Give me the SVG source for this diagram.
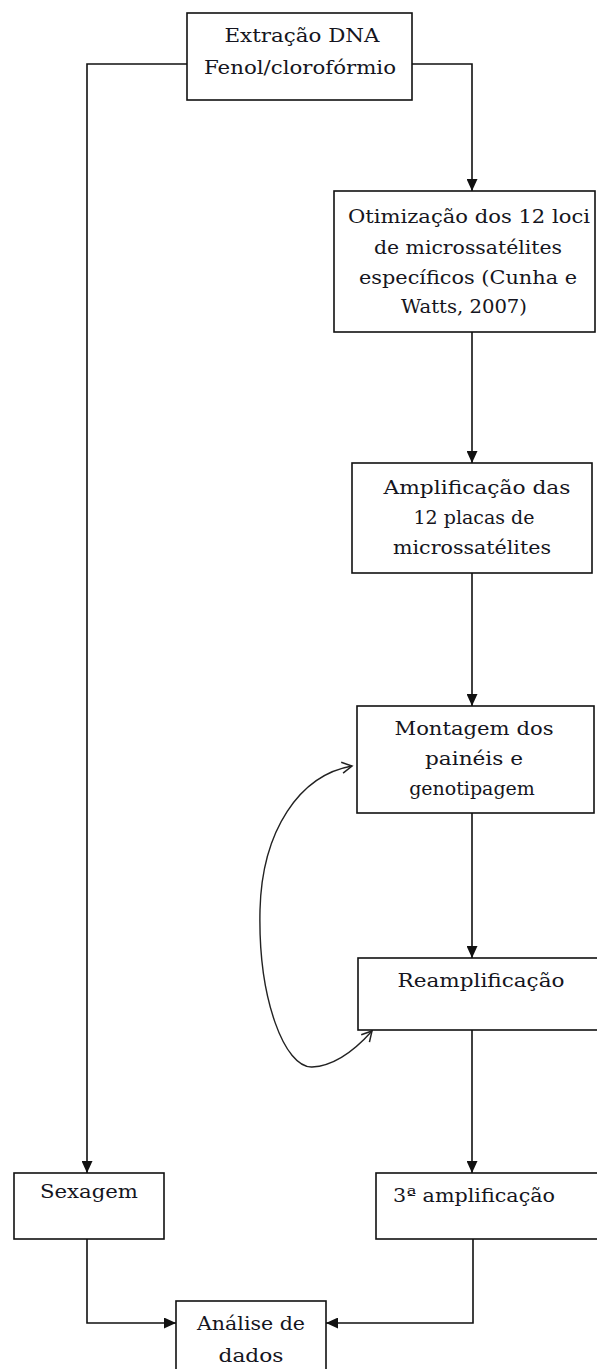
<svg xmlns="http://www.w3.org/2000/svg" width="597" height="1369" viewBox="0 0 597 1369">
<style>
.box{fill:#fff;stroke:#111;stroke-width:1.6}
.t{font-family:"DejaVu Serif","Liberation Serif",serif;font-size:19px;fill:#151520;text-anchor:middle}
.c{fill:none;stroke:#111;stroke-width:1.6}
.cv{fill:none;stroke:#222;stroke-width:1.4}
</style>
<defs>
<marker id="ah" markerUnits="userSpaceOnUse" markerWidth="12" markerHeight="11" refX="12" refY="5.5" orient="auto">
<path d="M0,0 L12,5.5 L0,11 z" fill="#111"/>
</marker>
<marker id="oa" markerUnits="userSpaceOnUse" markerWidth="14" markerHeight="14" refX="11" refY="7" orient="auto-start-reverse">
<path d="M1,1.5 L11,7 L1,12.5" fill="none" stroke="#222" stroke-width="1.5"/>
</marker>
</defs>
<g id="connectors">
<polyline class="c" points="187,64 87,64 87,1173" marker-end="url(#ah)"/>
<polyline class="c" points="412,64 472,64 472,191" marker-end="url(#ah)"/>
<line class="c" x1="472" y1="332" x2="472" y2="463" marker-end="url(#ah)"/>
<line class="c" x1="472" y1="573" x2="472" y2="706" marker-end="url(#ah)"/>
<line class="c" x1="472" y1="813" x2="472" y2="958" marker-end="url(#ah)"/>
<line class="c" x1="472" y1="1030" x2="472" y2="1173" marker-end="url(#ah)"/>
<polyline class="c" points="87,1239 87,1323 176,1323" marker-end="url(#ah)"/>
<polyline class="c" points="473,1239 473,1323 326,1323" marker-end="url(#ah)"/>
<path class="cv" d="M352,766 C300,775 262,830 260,910 C258,1000 285,1068 312,1067 C335,1066 355,1050 372,1031" marker-start="url(#oa)" marker-end="url(#oa)"/>
</g>
<g id="n1">
<rect class="box" x="187" y="13" width="225" height="87"/>
<text class="t" x="302" y="42" textLength="155" lengthAdjust="spacingAndGlyphs">Extração DNA</text>
<text class="t" x="300" y="74" textLength="192" lengthAdjust="spacingAndGlyphs">Fenol/clorofórmio</text>
</g>
<g id="n2">
<rect class="box" x="334" y="191" width="261" height="141"/>
<text class="t" x="469" y="223" textLength="242" lengthAdjust="spacingAndGlyphs">Otimização dos 12 loci</text>
<text class="t" x="468" y="254" textLength="188" lengthAdjust="spacingAndGlyphs">de microssatélites</text>
<text class="t" x="468" y="284" textLength="218" lengthAdjust="spacingAndGlyphs">específicos (Cunha e</text>
<text class="t" x="464" y="313" textLength="126" lengthAdjust="spacingAndGlyphs">Watts, 2007)</text>
</g>
<g id="n3">
<rect class="box" x="352" y="463" width="240" height="110"/>
<text class="t" x="477" y="494" textLength="187" lengthAdjust="spacingAndGlyphs">Amplificação das</text>
<text class="t" x="474" y="524">12 placas de</text>
<text class="t" x="472" y="554" textLength="158" lengthAdjust="spacingAndGlyphs">microssatélites</text>
</g>
<g id="n4">
<rect class="box" x="357" y="706" width="237" height="107"/>
<text class="t" x="474" y="735" textLength="159" lengthAdjust="spacingAndGlyphs">Montagem dos</text>
<text class="t" x="474" y="765" textLength="98" lengthAdjust="spacingAndGlyphs">painéis e</text>
<text class="t" x="472" y="795">genotipagem</text>
</g>
<g id="n5">
<rect class="box" x="358" y="958" width="240" height="72"/>
<text class="t" x="481" y="987" textLength="167" lengthAdjust="spacingAndGlyphs">Reamplificação</text>
</g>
<g id="n6">
<rect class="box" x="14" y="1173" width="150" height="66"/>
<text class="t" x="89" y="1198" textLength="98" lengthAdjust="spacingAndGlyphs">Sexagem</text>
</g>
<g id="n7">
<rect class="box" x="376" y="1173" width="222" height="66"/>
<text class="t" x="474" y="1202" textLength="162" lengthAdjust="spacingAndGlyphs">3ª amplificação</text>
</g>
<g id="n8">
<rect class="box" x="176" y="1301" width="150" height="80"/>
<text class="t" x="251" y="1330" textLength="108" lengthAdjust="spacingAndGlyphs">Análise de</text>
<text class="t" x="251" y="1362" textLength="65" lengthAdjust="spacingAndGlyphs">dados</text>
</g>
</svg>
